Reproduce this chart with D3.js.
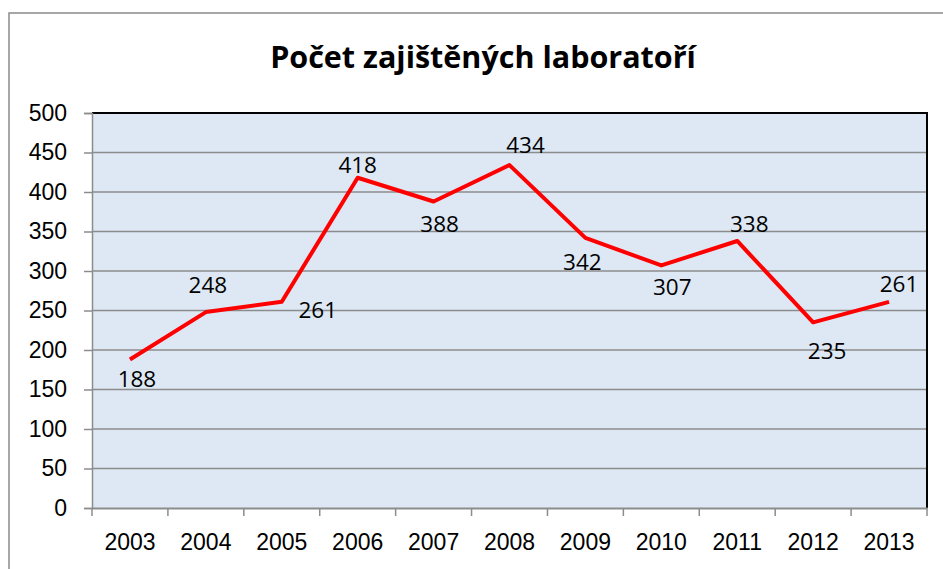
<!DOCTYPE html>
<html lang="cs">
<head>
    <meta charset="UTF-8">
    <title>Počet zajištěných laboratoří</title>
    <script src="https://d3js.org/d3.v7.min.js"></script>
    <style>
        body { margin: 0; background: #fff; font-family: "Open Sans", "Liberation Sans", sans-serif; }
        svg { display: block; }
        .tick-label { font-size: 23px; fill: #000; }
        .data-label { font-size: 22.5px; fill: #000; text-anchor: middle; }
        .title { font-size: 30.5px; font-weight: bold; text-anchor: middle; }
    </style>
</head>
<body>
    <svg id="chart" width="943" height="569"></svg>
    <script>
        const years = ["2003", "2004", "2005", "2006", "2007", "2008", "2009", "2010", "2011", "2012", "2013"];
        const counts = [188, 248, 261, 418, 388, 434, 342, 307, 338, 235, 261];
        const yTicks = [0, 50, 100, 150, 200, 250, 300, 350, 400, 450, 500];
        // where Excel put each data label, relative to its point
        const labelOffsets = [[7, 20], [2, -27], [36, 8], [0, -13], [6, 23], [16, -20],
                              [-3, 24], [11, 22], [12, -17], [14, 29], [10, -18]];

        const svg = d3.select("#chart");
        const width = 943, height = 569;
        const plot = { left: 92, right: 927, top: 113, bottom: 508 };

        // outer chart frame
        svg.append("rect")
            .attr("x", 9).attr("y", 13)
            .attr("width", width).attr("height", height)
            .attr("fill", "#fff")
            .attr("stroke", "#8a8a8a")
            .attr("stroke-width", 1.5);

        svg.append("text")
            .attr("class", "title")
            .attr("x", 483).attr("y", 68)
            .text("Počet zajištěných laboratoří");

        const x = d3.scaleBand()
            .domain(years)
            .range([plot.left, plot.right]);
        const y = d3.scaleLinear()
            .domain([0, 500])
            .range([plot.bottom, plot.top]);

        svg.append("rect")
            .attr("x", plot.left).attr("y", plot.top)
            .attr("width", plot.right - plot.left)
            .attr("height", plot.bottom - plot.top)
            .attr("fill", "#dde8f4");

        // gridlines
        svg.append("g")
            .selectAll("line")
            .data(yTicks.filter(d => d > 0 && d < 500))
            .join("line")
            .attr("x1", plot.left).attr("x2", plot.right)
            .attr("y1", d => y(d)).attr("y2", d => y(d))
            .attr("stroke", "#8c8c8c")
            .attr("stroke-width", 1.5);

        // top and right border in black
        svg.append("path")
            .attr("d", `M${plot.left},${plot.top}H${plot.right}V${plot.bottom}`)
            .attr("fill", "none")
            .attr("stroke", "#000")
            .attr("stroke-width", 2);

        // y axis
        const yAxis = svg.append("g")
            .attr("transform", `translate(${plot.left},0)`)
            .call(d3.axisLeft(y).tickValues(yTicks).tickSize(8).tickPadding(17));
        yAxis.select(".domain").attr("stroke", "#8c8c8c").attr("stroke-width", 1.5);
        yAxis.selectAll(".tick line").attr("stroke", "#8c8c8c").attr("stroke-width", 1.5);
        yAxis.selectAll(".tick text")
            .attr("class", "tick-label")
            .attr("font-family", null).attr("font-size", null);

        // x axis: ticks on category boundaries
        const xAxis = svg.append("g")
            .attr("transform", `translate(0,${plot.bottom})`)
            .call(d3.axisBottom(x).tickSize(0).tickPadding(26));
        xAxis.select(".domain").attr("stroke", "#8c8c8c").attr("stroke-width", 2);
        xAxis.selectAll(".tick text")
            .attr("class", "tick-label")
            .attr("font-family", null).attr("font-size", null);
        svg.append("g")
            .selectAll("line")
            .data(years.concat(["end"]))
            .join("line")
            .attr("x1", (d, i) => plot.left + i * x.bandwidth())
            .attr("x2", (d, i) => plot.left + i * x.bandwidth())
            .attr("y1", plot.bottom).attr("y2", plot.bottom + 8)
            .attr("stroke", "#8c8c8c")
            .attr("stroke-width", 1.5);

        const cx = d => x(d) + x.bandwidth() / 2;

        const line = d3.line()
            .x((d, i) => cx(years[i]))
            .y(d => y(d));

        svg.append("path")
            .datum(counts)
            .attr("d", line)
            .attr("fill", "none")
            .attr("stroke", "#ff0000")
            .attr("stroke-width", 4)
            .attr("stroke-linejoin", "round");

        svg.append("g")
            .selectAll("text")
            .data(counts)
            .join("text")
            .attr("class", "data-label")
            .attr("x", (d, i) => cx(years[i]) + labelOffsets[i][0])
            .attr("y", (d, i) => y(d) + labelOffsets[i][1])
            .attr("dy", "0.35em")
            .text(d => d);
    </script>
</body>
</html>
